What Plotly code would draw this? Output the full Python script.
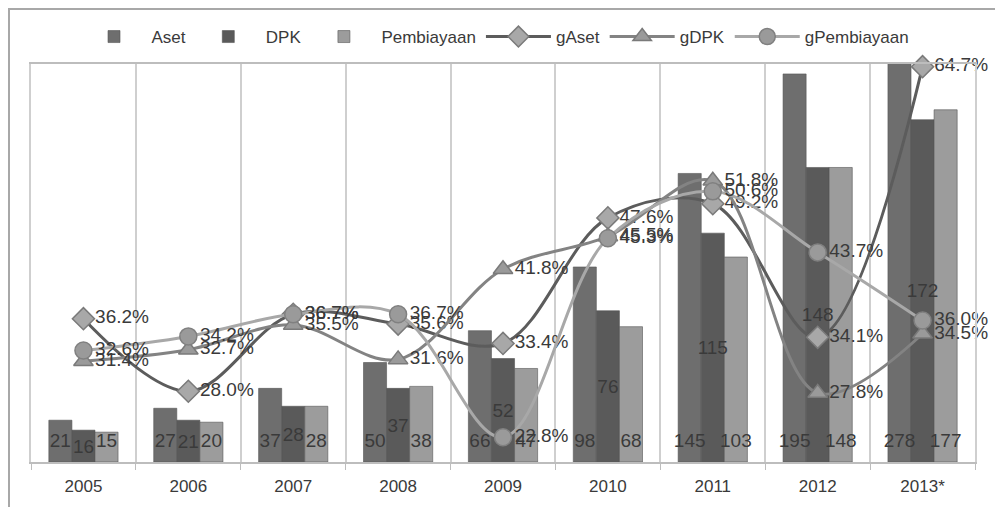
import plotly.graph_objects as go

years = ["2005", "2006", "2007", "2008", "2009", "2010", "2011", "2012", "2013*"]
aset = [21, 27, 37, 50, 66, 98, 145, 195, 278]
dpk = [16, 21, 28, 37, 52, 76, 115, 148, 172]
pembiayaan = [15, 20, 28, 38, 47, 68, 103, 148, 177]
g_aset = [36.2, 28.0, 36.7, 35.6, 33.4, 47.6, 49.2, 34.1, 64.7]
g_dpk = [31.4, 32.7, 35.5, 31.6, 41.8, 45.5, 51.8, 27.8, 34.5]
g_pemb = [32.6, 34.2, 36.7, 36.7, 22.8, 45.3, 50.6, 43.7, 36.0]

LBL = "Liberation Sans, Arial, sans-serif"
TXT = "#3a3a3a"

fig = go.Figure()

series = [
    ("Aset", aset, "#6e6e6e", "start", "a"),
    ("DPK", dpk, "#5a5a5a", "middle", "d"),
    ("Pembiayaan", pembiayaan, "#9c9c9c", "start", "p"),
]

# bars
for name, vals, color, anchor, grp in series:
    fig.add_trace(go.Bar(
        x=years, y=vals, name=name, offsetgroup=grp,
        marker=dict(color=color, line=dict(color="#555555", width=0.6)),
        hoverinfo="skip", yaxis="y",
    ))

# bar value labels, drawn above all bars
for name, vals, color, anchor, grp in series:
    lift = 4 if anchor == "start" else 0
    fig.add_trace(go.Bar(
        x=years, y=vals, base=lift, offsetgroup=grp, showlegend=False,
        marker=dict(color="rgba(0,0,0,0)", line=dict(width=0)),
        text=[str(v) for v in vals], textposition="inside",
        insidetextanchor=anchor, textangle=0, constraintext="none",
        textfont=dict(family=LBL, size=19, color=TXT),
        hoverinfo="skip", yaxis="y",
    ))

def line(name, vals, lcolor, symbol, mfill, mline, msize):
    fig.add_trace(go.Scatter(
        x=years, y=vals, name=name, mode="lines+markers+text",
        line=dict(color=lcolor, width=3, shape="spline", smoothing=1.0),
        marker=dict(symbol=symbol, size=msize, color=mfill,
                    line=dict(color=mline, width=1.5)),
        text=[f"{v:.1f}%" for v in vals], textposition="middle right",
        textfont=dict(family=LBL, size=19, color=TXT),
        cliponaxis=False, yaxis="y2",
    ))

line("gAset", g_aset, "#5c5c5c", "diamond", "#a8a8a8", "#7a7a7a", 17)
line("gDPK", g_dpk, "#838383", "triangle-up", "#9a9a9a", "#7a7a7a", 17)
line("gPembiayaan", g_pemb, "#a8a8a8", "circle", "#9a9a9a", "#808080", 17)

fig.update_layout(
    width=995, height=507,
    margin=dict(l=31, r=20, t=64, b=45, autoexpand=False),
    paper_bgcolor="white", plot_bgcolor="white",
    barmode="group", bargap=0.34, bargroupgap=0,
    showlegend=True,
    legend=dict(orientation="h", xref="container", yref="container",
                x=0.498, xanchor="center", y=1 - 37 / 507, yanchor="middle",
                font=dict(family=LBL, size=17, color=TXT), itemwidth=65,
                traceorder="normal", bgcolor="rgba(0,0,0,0)"),
    xaxis=dict(type="category", tickson="boundaries", showgrid=True,
               gridcolor="#cfcfcf", gridwidth=1.5, ticks="outside", ticklen=6,
               tickcolor="#bdbdbd", showline=True, linecolor="#bdbdbd", linewidth=1.5,
               mirror=True, tickfont=dict(family=LBL, size=17, color=TXT),
               ticklabelstandoff=8, range=[-0.5, 8.5]),
    yaxis=dict(range=[0, 200], showticklabels=False, showgrid=False,
               zeroline=False, showline=True, linecolor="#cfcfcf", linewidth=1.5,
               mirror=True, ticks=""),
    yaxis2=dict(range=[20, 65], overlaying="y", side="right", visible=False,
                showgrid=False, zeroline=False),
    shapes=[dict(type="rect", xref="paper", yref="paper",
                 x0=(9 - 31) / 944, x1=1.2, y0=-0.3, y1=(462 - 9) / 398,
                 line=dict(color="#a8a8a8", width=2), fillcolor="rgba(0,0,0,0)",
                 layer="below")],
)

fig.write_html(
    "out.html",
    config={"displayModeBar": False},
    post_script="document.body.style.margin='0';document.body.style.overflow='hidden';",
)
